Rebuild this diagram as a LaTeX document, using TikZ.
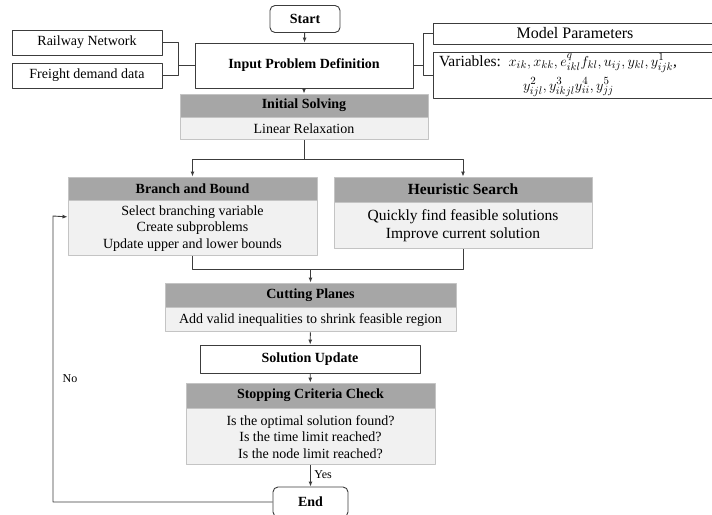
\documentclass[tikz,border=0pt]{standalone}
\usepackage{fontspec}
\setmainfont{Liberation Serif}
\usetikzlibrary{arrows.meta,calc,positioning}
\definecolor{headgray}{RGB}{166,166,166}
\definecolor{bodygray}{RGB}{241,241,241}
\definecolor{rimgray}{RGB}{196,196,196}
\definecolor{linegray}{RGB}{60,60,60}

\begin{document}
\begin{tikzpicture}[x=1pt, y=-1pt, >={Latex[length=5pt,width=4pt]}, line join=round,
  conn/.style={draw=linegray, line width=0.9pt},
  plainbox/.style={draw=linegray, line width=0.9pt, fill=white, inner sep=2pt, align=center,
    font=\fontsize{14}{16.5}\selectfont},
  termbox/.style={plainbox, rounded corners=5pt, font=\fontsize{14}{16.5}\selectfont\bfseries},
  headbox/.style={draw=rimgray, line width=0.9pt, fill=headgray, inner sep=2pt, align=center,
    font=\fontsize{14}{16.5}\selectfont\bfseries},
  bodybox/.style={draw=rimgray, line width=0.9pt, fill=bodygray, inner sep=2pt, align=center,
    font=\fontsize{14}{16.5}\selectfont}]

\clip (0,0) rectangle (712,514);

% ============ START + PROBLEM INPUT ============
\node[termbox, minimum width=70pt, minimum height=27pt] (start) at (305,19) {Start};
\node[plainbox, minimum width=218pt, minimum height=45pt, font=\fontsize{14}{16.5}\selectfont\bfseries] (input) at (304,65.5) {Input Problem Definition};

% data sources on the left
\node[plainbox, minimum width=150pt, minimum height=25pt] (rail) at (87,42.5) {Railway Network};
\node[plainbox, minimum width=150pt, minimum height=25pt] (freight) at (87,75.5) {Freight demand data};

% model description on the right (runs off the page edge, as in ref.)
\node[plainbox, minimum width=284pt, minimum height=21pt, font=\fontsize{16}{18}\selectfont] (model) at (575,33.5) {Model Parameters};
\node[plainbox, text width=272pt, inner xsep=6pt, inner ysep=1pt, minimum height=46pt, align=left,
  font=\fontsize{15.5}{21}\selectfont] (vars) at (575,75)
  {Variables: $x_{ik}, x_{kk}, e^{q}_{ikl} f_{kl}, u_{ij}, y_{kl}, y^{1}_{ijk}$,\\[3pt]
   \hspace*{84pt}$y^{2}_{ijl}, y^{3}_{ikjl} y^{4}_{ii}, y^{5}_{jj}$};

% bracket joins
\coordinate (lj) at (178,65.5);
\draw[conn] (rail.east) -| (lj);
\draw[conn] (freight.east) -| (lj);
\draw[conn] (lj) -- (input.west);
\coordinate (rj) at (423,65.5);
\draw[conn] (input.east) -- (rj);
\draw[conn] (rj) |- (model.west);
\draw[conn] (rj) |- (vars.west);

% ============ INITIAL SOLVING ============
\node[headbox, minimum width=248pt, minimum height=23pt] (initH) at (304,105.5) {Initial Solving};
\node[bodybox, minimum width=248pt, minimum height=22pt, below=0pt of initH] (initB) {Linear Relaxation};

\draw[conn, ->] (start) -- (input);
\draw[conn, ->] (input) -- (initH);

% ============ BRANCH AND BOUND / HEURISTIC (side by side) ============
\node[headbox, minimum width=249pt, minimum height=23pt] (bbH) at (192.5,188.5) {Branch and Bound};
\node[bodybox, minimum width=249pt, minimum height=55pt, below=0pt of bbH] (bbB)
  {Select branching variable\\Create subproblems\\Update upper and lower bounds};

\node[headbox, minimum width=258pt, minimum height=25pt, font=\fontsize{15.5}{18}\selectfont\bfseries] (heurH) at (463,189.5) {Heuristic Search};
\node[bodybox, minimum width=258pt, minimum height=46pt, below=0pt of heurH, font=\fontsize{15.5}{18}\selectfont] (heurB)
  {Quickly find feasible solutions\\Improve current solution};

\coordinate (split) at ($(initB.south)+(0,19)$);
\draw[conn] (initB.south) -- (split);
\draw[conn, ->] (split) -| (bbH.north);
\draw[conn, ->] (split) -| (heurH.north);

% ============ CUTTING PLANES ============
\node[headbox, minimum width=291pt, minimum height=24pt] (cutH) at (310.5,295) {Cutting Planes};
\node[bodybox, minimum width=291pt, minimum height=24pt, below=0pt of cutH] (cutB)
  {Add valid inequalities to shrink feasible region};

\coordinate (merge) at ($(cutH.north)+(0,-13)$);
\draw[conn] (bbB.south) |- (merge);
\draw[conn] (heurB.south) |- (merge);
\draw[conn, ->] (merge) -- (cutH.north);

% ============ UPDATE + STOPPING ============
\node[plainbox, minimum width=220pt, minimum height=28pt, font=\fontsize{14}{16.5}\selectfont\bfseries] (upd) at (310,359) {Solution Update};
\draw[conn, ->] (cutB) -- (upd);

\node[headbox, minimum width=249pt, minimum height=25pt] (stopH) at (310.5,395.5) {Stopping Criteria Check};
\node[bodybox, minimum width=249pt, minimum height=56pt, below=0pt of stopH] (stopB)
  {Is the optimal solution found?\\Is the time limit reached?\\Is the node limit reached?};
\draw[conn, ->] (upd) -- (stopH);

% ============ END + LOOP BACK ============
\node[termbox, minimum width=75pt, minimum height=30pt] (end) at (310.5,502) {End};
\draw[conn, ->] (stopB) -- node[right, font=\fontsize{12}{14}\selectfont, pos=0.45] {Yes} (end);

\coordinate (loopup) at (53,216);
\coordinate (loopin) at ($(bbB.west)+(0,-11.5)$);
\draw[conn, ->] (end.west) -| (loopup) -- (loopin);
\node[font=\fontsize{12}{14}\selectfont] (nolbl) at (70,379) {No};
\end{tikzpicture}
\end{document}
